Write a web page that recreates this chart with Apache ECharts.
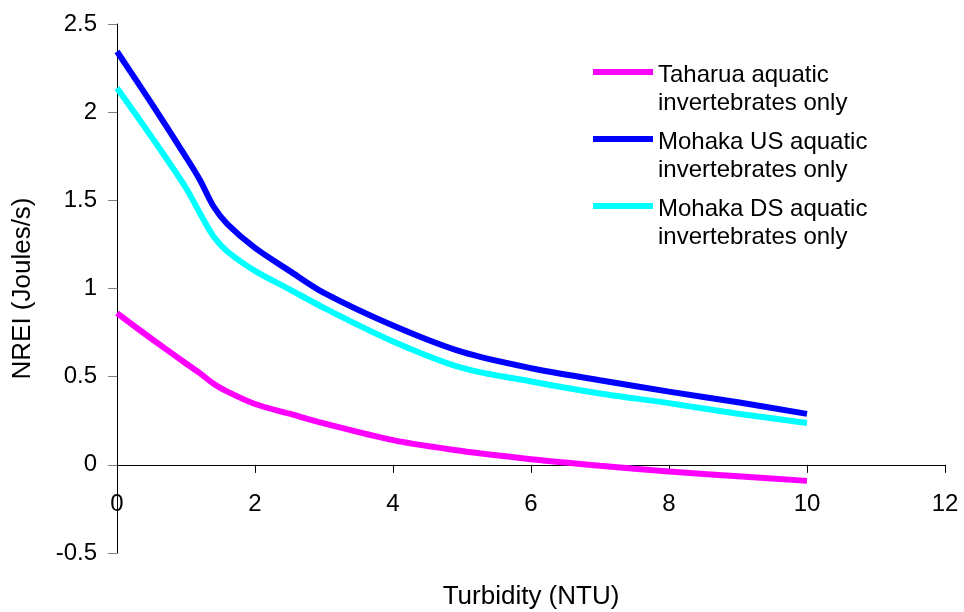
<!DOCTYPE html>
<html>
<head>
<meta charset="utf-8">
<script src="https://cdn.jsdelivr.net/npm/echarts@6/dist/echarts.min.js"></script>
<style>
html,body{margin:0;padding:0;background:#fff;}
#chart{width:964px;height:612px;}
</style>
</head>
<body>
<div id="chart"></div>
<script>
// Turbidity (NTU) sample points
var turbidity = [0, 0.5, 1, 1.2, 1.4, 1.6, 2, 2.5, 3, 4, 5, 6, 7, 8, 9, 10];
// NREI (Joules/s)
var taharua   = [0.86, 0.715, 0.575, 0.52, 0.46, 0.415, 0.345, 0.29, 0.235, 0.14, 0.078, 0.032, -0.005, -0.038, -0.065, -0.091];
var mohakaUS  = [2.344, 2.05, 1.745, 1.617, 1.465, 1.365, 1.23, 1.10, 0.975, 0.79, 0.64, 0.548, 0.48, 0.415, 0.355, 0.289];
var mohakaDS  = [2.137, 1.86, 1.57, 1.428, 1.295, 1.21, 1.10, 0.995, 0.89, 0.70, 0.55, 0.473, 0.405, 0.35, 0.29, 0.237];
var seriesNames = ['Taharua aquatic invertebrates only', 'Mohaka US aquatic invertebrates only', 'Mohaka DS aquatic invertebrates only'];
var seriesColors = ['#FF00FF', '#0000FF', '#00FFFF'];
var xTitle = 'Turbidity (NTU)';
var yTitle = 'NREI (Joules/s)';

function pairs(ys){ return turbidity.map(function(x,i){ return [x, ys[i]]; }); }

var FONT = '"Liberation Sans", Arial, sans-serif';
var chart = echarts.init(document.getElementById('chart'));
var allData = [taharua, mohakaUS, mohakaDS];

chart.setOption({
  backgroundColor: '#ffffff',
  animation: false,
  textStyle: { fontFamily: FONT },
  grid: { left: 117, right: 19, top: 24, bottom: 59, containLabel: false, outerBoundsMode: 'none' },
  legend: {
    left: 593, top: 61, padding: 0,
    orient: 'vertical',
    itemWidth: 60, itemHeight: 56, itemGap: 11,
    icon: 'path://M0,0h0.01v0.01h-0.01z M0,8h60v6h-60z M0,55.99h0.01v0.01h-0.01z',
    itemStyle: { borderWidth: 0 },
    formatter: function(n){ return n.replace(' invertebrates', '\ninvertebrates'); },
    textStyle: { fontSize: 24, lineHeight: 28, color: '#000', fontFamily: FONT },
    data: seriesNames
  },
  xAxis: {
    type: 'value', min: 0, max: 12, interval: 2,
    name: xTitle, nameLocation: 'middle', nameGap: 31,
    nameTextStyle: { fontSize: 26, color: '#000', fontFamily: FONT },
    axisLine: { onZero: true, lineStyle: { color: '#000', width: 1 } },
    axisTick: { inside: false, length: 8, lineStyle: { color: '#000' } },
    axisLabel: { margin: -61, fontSize: 24, color: '#000', fontFamily: FONT },
    splitLine: { show: false }
  },
  yAxis: {
    type: 'value', min: -0.5, max: 2.5, interval: 0.5,
    name: yTitle, nameLocation: 'middle', nameGap: 81, nameRotate: 90,
    nameTextStyle: { fontSize: 26, color: '#000', fontFamily: FONT },
    axisLine: { show: true, lineStyle: { color: '#000', width: 1 } },
    axisTick: { show: true, length: 9, lineStyle: { color: '#808080' } },
    axisLabel: { margin: 20, fontSize: 24, color: '#000', fontFamily: FONT },
    splitLine: { show: false }
  },
  series: seriesNames.map(function(n, i){
    return {
      name: n, type: 'line', data: pairs(allData[i]),
      smooth: 0.3, symbol: 'none', showSymbol: false,
      color: seriesColors[i],
      lineStyle: { color: seriesColors[i], width: 6 }
    };
  })
});
</script>
</body>
</html>
